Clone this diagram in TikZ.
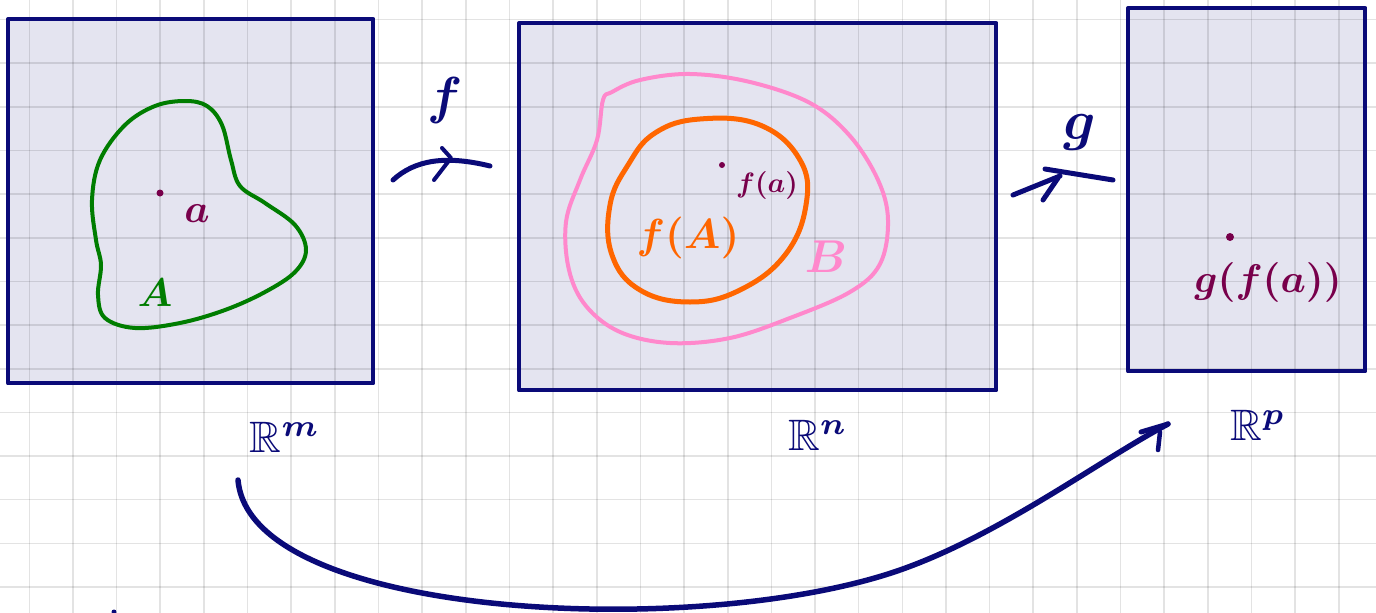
\documentclass[tikz,border=0pt]{standalone}
\usepackage{amsmath}
\usepackage{amssymb}
\usetikzlibrary{arrows.meta}
\definecolor{navyink}{RGB}{10,10,120}
\definecolor{boxfill}{RGB}{228,228,240}
\definecolor{greenink}{RGB}{0,125,0}
\definecolor{pinkink}{RGB}{255,136,204}
\definecolor{orangeink}{RGB}{255,102,0}
\definecolor{purpleink}{RGB}{120,0,75}
\newcommand{\inkmath}[2]{\scalebox{#1}{$\boldsymbol{#2}$}}
\tikzset{
  spacebox/.style={fill=boxfill, inner sep=0pt, anchor=north west},
  boxline/.style={draw=navyink, line width=4pt},
  gridline/.style={black, opacity=0.11, line width=1.6pt},
  ink/.style={line width=5pt, navyink},
  lbl/.style={inner sep=0pt},
}
\begin{document}
\begin{tikzpicture}[x=1pt,y=-1pt, line cap=round, line join=round]
\useasboundingbox (0,0) rectangle (1376,613);
\fill[white] (0,0) rectangle (1376,613);
% spaces
\node[spacebox, minimum width=365pt, minimum height=364pt] (Rm) at (8,19) {};
\node[spacebox, minimum width=477pt, minimum height=367pt] (Rn) at (519,23) {};
\node[spacebox, minimum width=237pt, minimum height=363pt] (Rp) at (1128,8) {};
% grid paper
\foreach \i in {0,...,30} \draw[gridline] ({29.3+43.65*\i},0) -- ({29.3+43.65*\i},613);
\foreach \j in {0,...,13} \draw[gridline] (0,{19.5+43.65*\j}) -- (1376,{19.5+43.65*\j});
% box outlines
\draw[boxline] (Rm.north west) rectangle (Rm.south east);
\draw[boxline] (Rn.north west) rectangle (Rn.south east);
\draw[boxline] (Rp.north west) rectangle (Rp.south east);
% set A
\draw[greenink, line width=4pt] plot[smooth cycle, tension=0.6] coordinates {
 (185,101) (207,106) (222,125) (231,160) (240,186) (265,203) (295,225) (306,250)
 (295,272) (265,292) (225,310) (180,323) (135,328) (105,318) (98,295) (101,265)
 (96,240) (92,200) (100,160) (125,125) (155,106)};
\fill[purpleink] (160,193) circle (3.5);
\node[lbl, purpleink] (la) at (197,214) {\inkmath{4}{a}};
\node[lbl, greenink] (lA) at (155,293) {\inkmath{4}{A}};
% set B
\draw[pinkink, line width=4pt] plot[smooth cycle, tension=0.6] coordinates {
 (603,100) (597,140) (580,180) (566,222) (569,270) (586,306) (620,332) (670,343)
 (730,338) (790,318) (850,292) (880,264) (888,220) (878,180) (850,136) (810,103)
 (750,82) (690,74) (640,80) (612,92)};
\node[lbl, pinkink] (lB) at (826,257) {\inkmath{4.6}{B}};
% f(A)
\draw[orangeink, line width=5pt] plot[smooth cycle, tension=0.7] coordinates {
 (700,119) (760,125) (800,160) (806,205) (785,255) (740,290) (690,302)
 (640,290) (612,255) (610,205) (628,165) (655,133)};
\node[lbl, orangeink] (lfA) at (688,238) {\inkmath{4.2}{f(A)}};
\fill[purpleink] (722,165) circle (3);
\node[lbl, purpleink] (lfa) at (767,185) {\inkmath{2.8}{f(a)}};
% g(f(a))
\fill[purpleink] (1230,237) circle (4);
\node[lbl, purpleink] (lgfa) at (1268,282) {\inkmath{4.0}{g(f(a))}};
% space labels
\node[lbl, navyink] (tRm) at (285,437) {\scalebox{4.4}{$\mathbb{R}^{\boldsymbol{m}}$}};
\node[lbl, navyink] (tRn) at (818,435) {\scalebox{4.4}{$\mathbb{R}^{\boldsymbol{n}}$}};
\node[lbl, navyink] (tRp) at (1258,425) {\scalebox{4.4}{$\mathbb{R}^{\boldsymbol{p}}$}};
% arrow f
\coordinate (fs) at (393,180);
\coordinate (fe) at (490,166);
\coordinate (fh) at (451,158);
\draw[ink] (fs) .. controls (415,160) and (445,155) .. (fe);
\draw[ink, line width=4pt] (442,148) -- (fh) -- (434,180);
\node[lbl, navyink] (lf) at (445,100) {\inkmath{5.2}{f}};
% arrow g
\coordinate (gs) at (1013,195);
\coordinate (gh) at (1060,176);
\coordinate (ge) at (1113,180);
\draw[ink] (gs) -- (gh);
\draw[ink] (1045,169) -- (ge);
\draw[ink] (1058,178) -- (1043,200);
\node[lbl, navyink] (lg) at (1080,132) {\inkmath{5.6}{g}};
% composite arrow
\coordinate (cs) at (238,480);
\coordinate (ce) at (1168,424);
\draw[ink, line width=5.5pt] (cs) .. controls (250,620) and (700,640) .. (900,570)
  .. controls (1000,535) and (1100,460) .. (ce);
\draw[ink] (1141,432) -- (ce);
\draw[ink, line width=4.5pt] (1160,432) -- (1158,450);
\fill[navyink] (114,612) circle (2.5);
\end{tikzpicture}
\end{document}
